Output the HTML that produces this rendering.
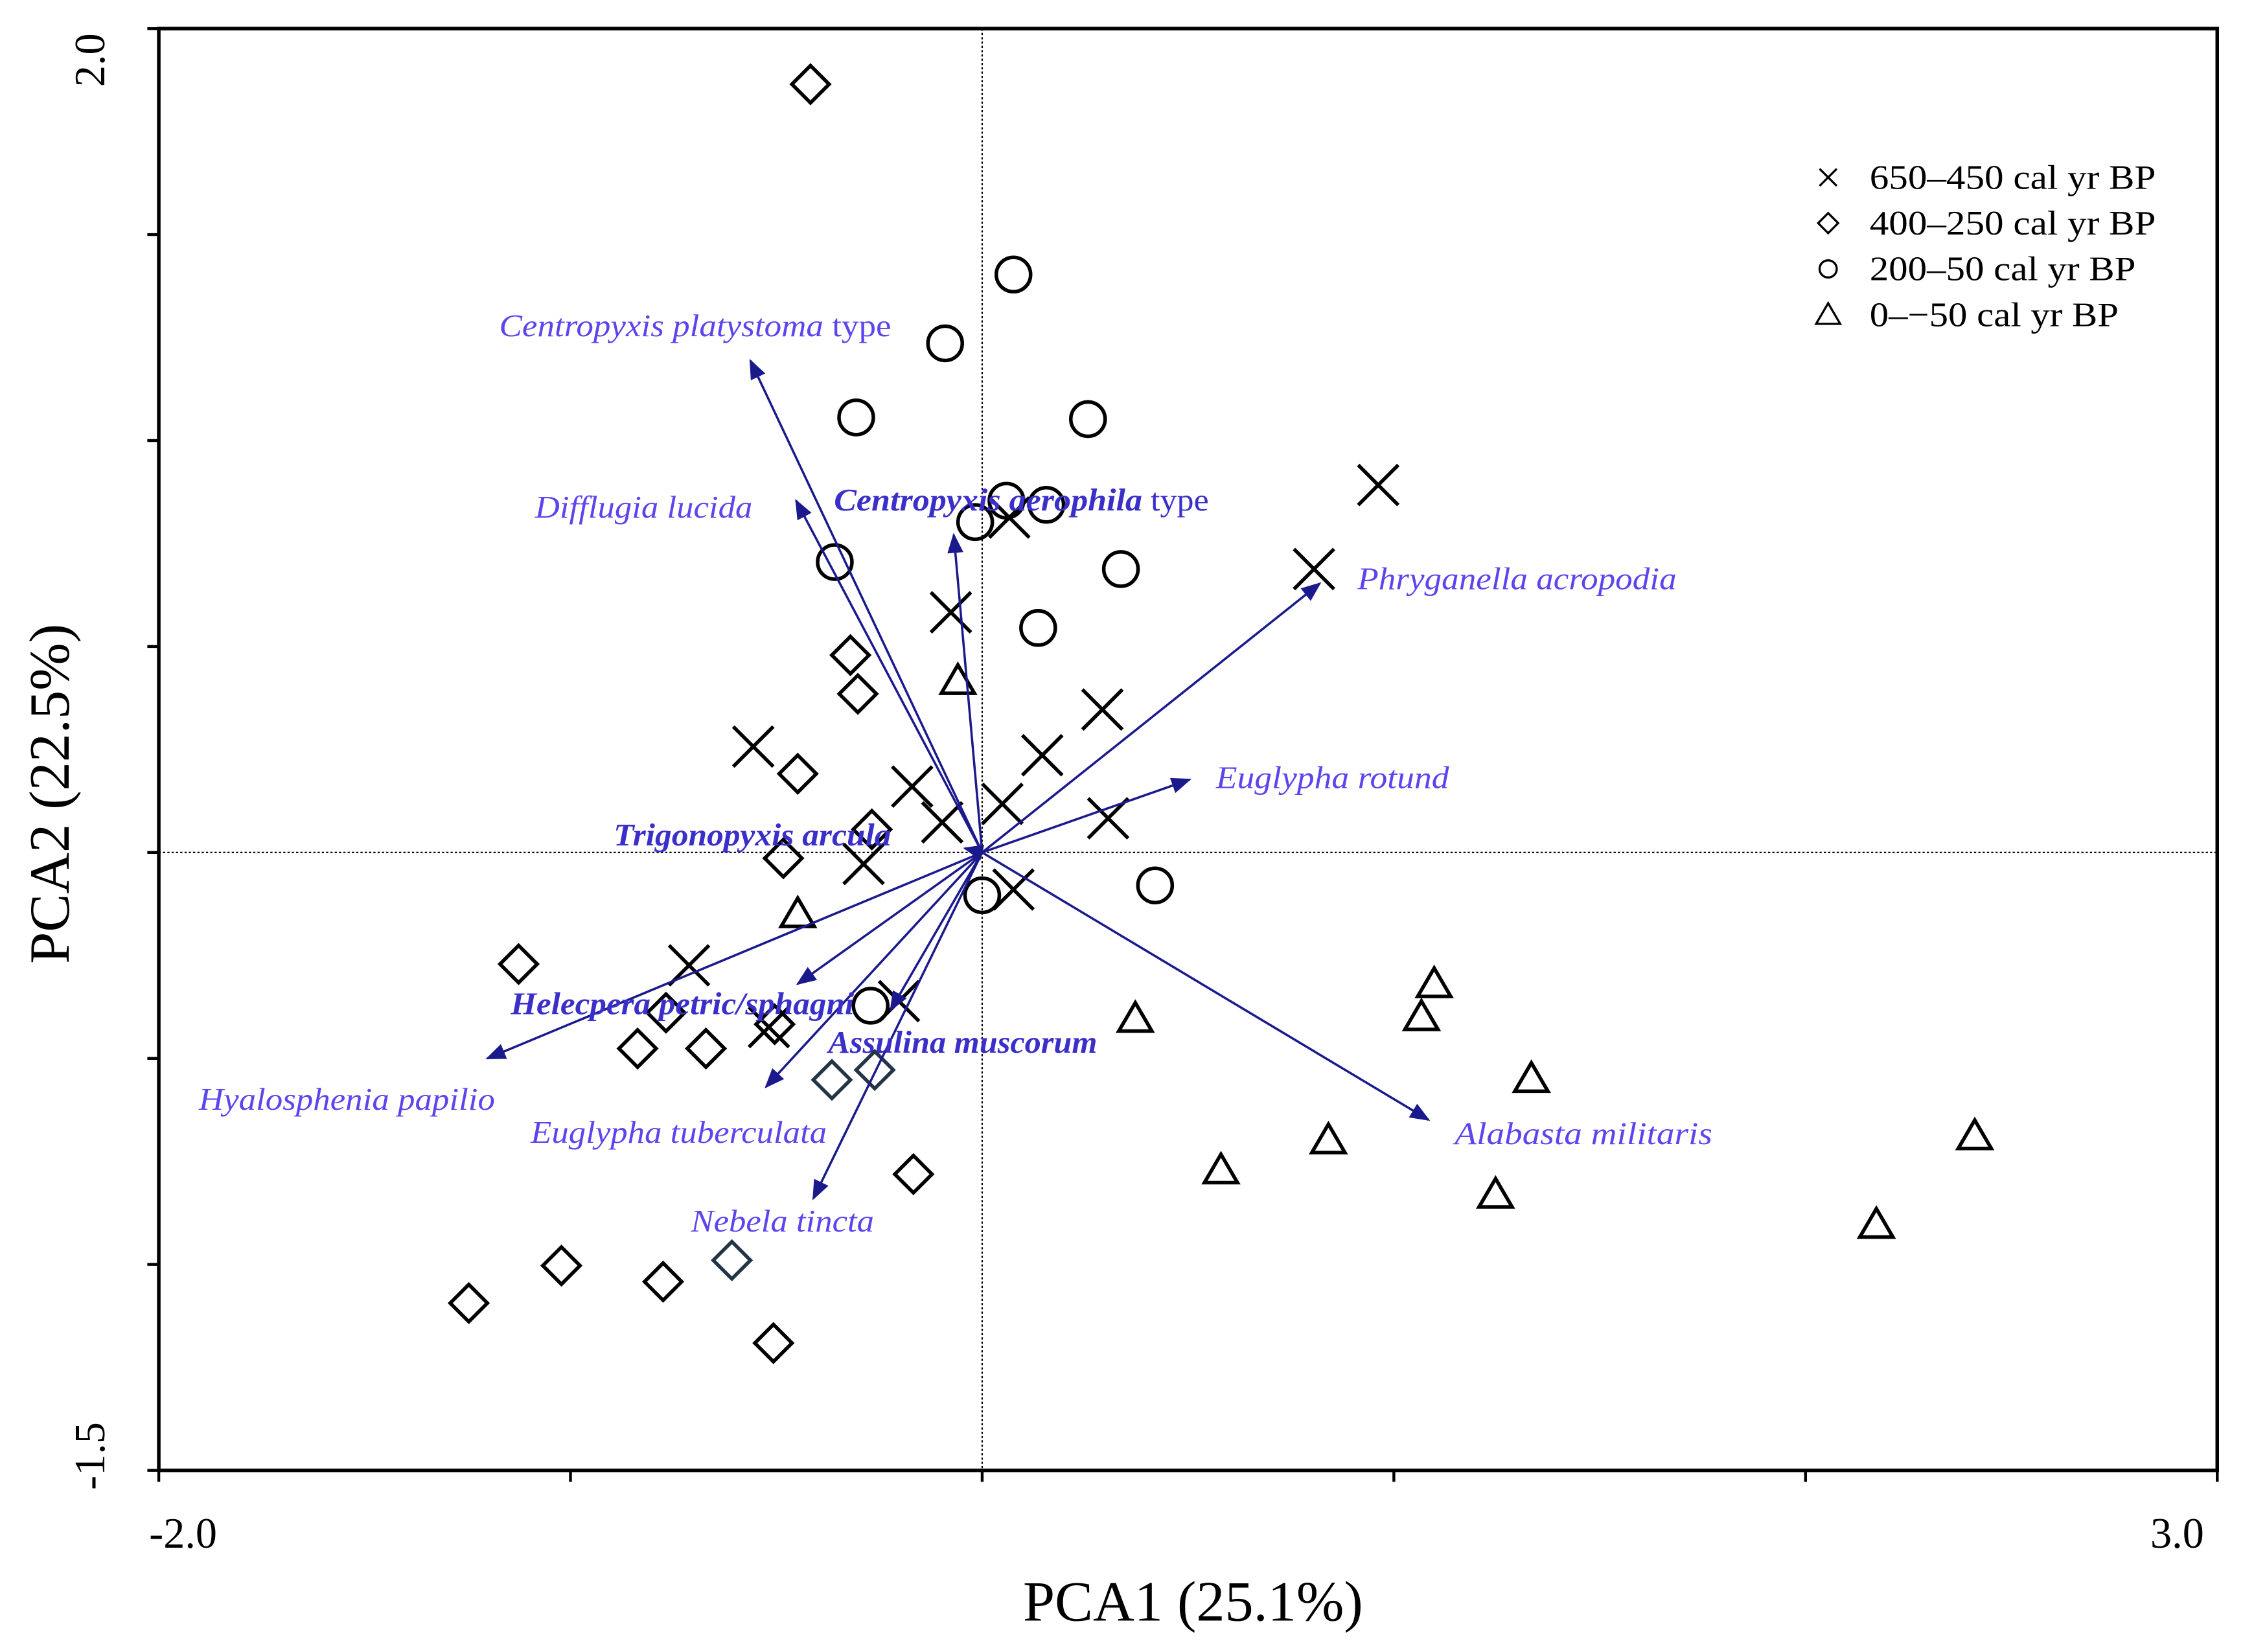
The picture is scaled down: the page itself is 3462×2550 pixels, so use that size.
<!DOCTYPE html>
<html><head><meta charset="utf-8"><style>
html,body{margin:0;padding:0;background:#fff}
svg{display:block}
</style></head><body>
<svg id="chart" width="3462" height="2550" viewBox="0 0 1568 1155" preserveAspectRatio="none" xmlns="http://www.w3.org/2000/svg" font-family="Liberation Serif, serif">
<rect x="0" y="0" width="1568" height="1155" fill="#fff"/>
<g id="axes"></g>
<g id="marks"></g>
<g id="arrows"></g>
<g id="legend"></g>
</svg>
<script>
const crossX=[0.962,0.806,0.066,-0.076,-0.556,0.292,0.146,-0.170,0.049,-0.097,0.306,-0.288,0.076,-0.712,-0.202,-0.518];
const crossY=[0.892,0.688,0.813,0.583,0.257,0.347,0.236,0.160,0.118,0.073,0.083,-0.028,-0.090,-0.274,-0.361,-0.424];
const diamondX=[-0.417,-0.320,-0.302,-0.448,-0.268,-0.483,-1.126,-0.768,-0.504,-0.837,-0.671,-0.167,-1.022,-1.247,-0.775,-0.507,-0.365,-0.261,-0.608];
const diamondY=[1.865,0.479,0.385,0.191,0.056,-0.014,-0.271,-0.389,-0.417,-0.476,-0.476,-0.781,-1.003,-1.094,-1.042,-1.191,-0.552,-0.528,-0.990];
const circleX=[0.076,-0.090,-0.306,0.257,0.059,0.156,-0.017,-0.358,0.337,0.136,0.420,0.000,-0.271];
const circleY=[1.403,1.236,1.056,1.052,0.854,0.844,0.802,0.705,0.688,0.545,-0.080,-0.104,-0.372];
const triX=[-0.059,-0.448,0.372,1.098,1.067,1.334,0.841,0.580,1.247,2.411,2.172];
const triY=[0.417,-0.149,-0.403,-0.319,-0.399,-0.549,-0.698,-0.771,-0.830,-0.688,-0.903];
const species=["Centropyxis platystoma","Difflugia lucida","Centropyxis aerophila","Phryganella acropodia","Euglypha rotund","Trigonopyxis arcula","Hyalosphenia papilio","Helecpera petric/sphagni","Euglypha tuberculata","Assulina muscorum","Nebela tincta","Alabasta militaris"];
const arrowX=[-0.563,-0.452,-0.069,0.820,0.504,-0.042,-1.202,-0.448,-0.525,-0.222,-0.410,1.084];
const arrowY=[1.194,0.854,0.771,0.653,0.177,0.010,-0.500,-0.319,-0.569,-0.382,-0.840,-0.649];
const xTicks=[-2,-1,0,1,2,3];
const yTicks=[2.0,1.5,1.0,0.5,0,-0.5,-1.0,-1.5];
const legendLabels=["650–450 cal yr BP","400–250 cal yr BP","200–50 cal yr BP","0–−50 cal yr BP"];

const NS="http://www.w3.org/2000/svg";
const L=111,R=1550,T=20,B=1028;
function sx(v){return L+(v+2)/5*(R-L);}
function sy(v){return T+(2-v)/3.5*(B-T);}
function mk(tag,attrs,parent){const e=document.createElementNS(NS,tag);for(const k in attrs)e.setAttribute(k,attrs[k]);parent.appendChild(e);return e;}
const axes=document.getElementById('axes'),marks=document.getElementById('marks'),arrows=document.getElementById('arrows'),legend=document.getElementById('legend');

let e=mk('rect',{x:L,y:T,width:R-L,height:B-T,fill:'none',stroke:'#000','stroke-width':2.5},axes);

e=mk('line',{x1:sx(0),x2:sx(0),y1:T,y2:B,stroke:'#000','stroke-width':1,'stroke-dasharray':'1.5,1.5'},axes);

e=mk('line',{x1:L,x2:R,y1:sy(0),y2:sy(0),stroke:'#000','stroke-width':1,'stroke-dasharray':'1.5,1.5'},axes);

xTicks.forEach(v=>{const t=mk('line',{x1:sx(v),x2:sx(v),y1:B,y2:B+8,stroke:'#000','stroke-width':2},axes);
});
yTicks.forEach(v=>{const t=mk('line',{x1:L-8,x2:L,y1:sy(v),y2:sy(v),stroke:'#000','stroke-width':2},axes);
});
function txt(s,attrs,parent,name){const t=mk('text',attrs,parent);t.textContent=s;return t;}
txt('-2.0',{x:128,y:1082,'font-size':30,'text-anchor':'middle'},axes,'x-tick-label-min');
txt('3.0',{x:1522,y:1082,'font-size':30,'text-anchor':'middle'},axes,'x-tick-label-max');
txt('2.0',{x:0,y:0,'font-size':30,'text-anchor':'middle',transform:'translate(73,42) rotate(-90)'},axes,'y-tick-label-max');
txt('-1.5',{x:0,y:0,'font-size':30,'text-anchor':'middle',transform:'translate(73,1018) rotate(-90)'},axes,'y-tick-label-min');
txt('PCA1 (25.1%)',{x:834,y:1133,'font-size':40,'text-anchor':'middle'},axes,'x-axis-title');
txt('PCA2 (22.5%)',{x:0,y:0,'font-size':40,'text-anchor':'middle',transform:'translate(48,555) rotate(-90)'},axes,'y-axis-title');

const defs=mk('defs',{},document.getElementById('chart'));
const m=mk('marker',{id:'ah',viewBox:'0 0 10 10',refX:9,refY:5,markerWidth:14,markerHeight:14,orient:'auto',markerUnits:'userSpaceOnUse'},defs);
mk('path',{d:'M0,1 L10,5 L0,9 Z',fill:'#1a1a8c'},m);
species.forEach((s,i)=>{const a=mk('line',{x1:sx(0),y1:sy(0),x2:sx(arrowX[i]),y2:sy(arrowY[i]),stroke:'#1a1a8c','stroke-width':1.6,'marker-end':'url(#ah)'},arrows);
});
const labelPos=[[349,235,0,274],[374,362,0,152],[583,357,1,262],[949,412,0,223],[850,551,0,163],[429,591,1,194],[139,776,0,207],[357,709,1,240],[371,799,0,207],[579,736,1,188],[483,861,0,128],[1017,800,0,180]];
species.forEach((s,i)=>{const p=labelPos[i];const t=mk('text',{x:p[0],y:p[1],'font-size':22,'font-style':'italic',fill:p[2]?'#3a2fc8':'#5b45ee','font-weight':p[2]?'bold':'normal',textLength:p[3],lengthAdjust:'spacingAndGlyphs'},arrows);

t.appendChild(document.createTextNode(s));
if(i===0||i===2){const ts=mk('tspan',{'font-style':'normal','font-weight':'normal'},t);ts.textContent=' type';}});

const st={fill:'none',stroke:'#000','stroke-width':2.5};
function cross(x,y,h,p){return mk('path',Object.assign({d:`M${x-h},${y-h}L${x+h},${y+h}M${x-h},${y+h}L${x+h},${y-h}`},st),p);}
function diamond(x,y,h,p,c){return mk('path',Object.assign({},st,{stroke:c||'#000',d:`M${x},${y-h}L${x+h},${y}L${x},${y+h}L${x-h},${y}Z`}),p);}
function circle(x,y,r,p){return mk('circle',Object.assign({cx:x,cy:y,r:r},st),p);}
function tri(x,y,h,p){return mk('path',Object.assign({},st,{d:`M${x},${y-h}L${x+h*1.05},${y+h*0.8}L${x-h*1.05},${y+h*0.8}Z`}),p);}
crossX.forEach((v,i)=>{const g=cross(sx(v),sy(crossY[i]),14,marks);
});
diamondX.forEach((v,i)=>{const g=diamond(sx(v),sy(diamondY[i]),13,marks,i>=16?'#243447':'#000');
});
circleX.forEach((v,i)=>{const g=circle(sx(v),sy(circleY[i]),12,marks);
});
triX.forEach((v,i)=>{const g=tri(sx(v),sy(triY[i]),11,marks);
});

const ly=[124,156,188,220];
const lw=[200,200,186,174];
legendLabels.forEach((s,i)=>{const x=1278,y=ly[i];let g;
if(i===0)g=cross(x,y,6,legend);else if(i===1)g=diamond(x,y,7,legend);else if(i===2)g=circle(x,y,6,legend);else g=tri(x,y,8,legend);
g.setAttribute('stroke-width',1.5);

txt(s,{x:1307,y:y+8,'font-size':24,textLength:lw[i],lengthAdjust:'spacingAndGlyphs'},legend,'legend-entry');});
</script>
</body></html>
